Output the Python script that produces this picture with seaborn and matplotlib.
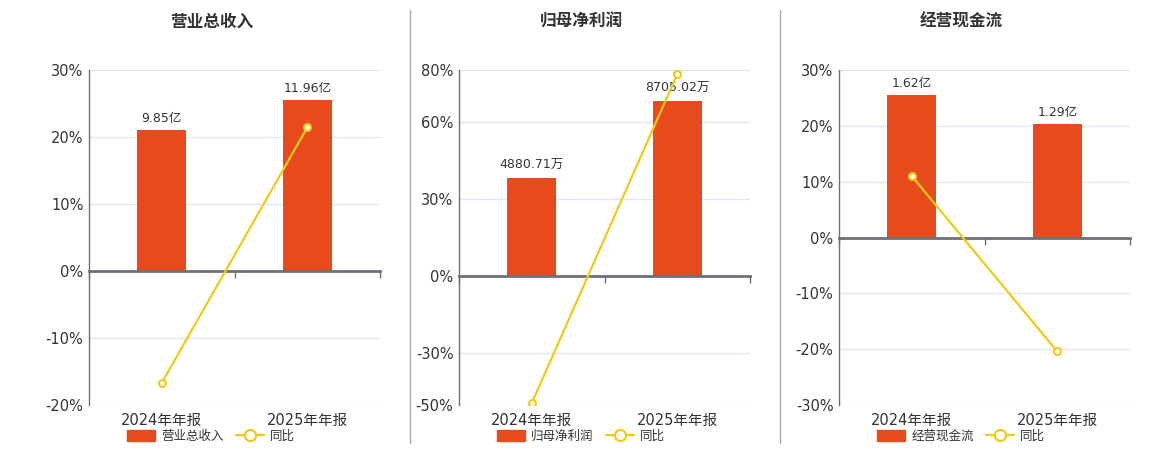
import matplotlib
matplotlib.use("Agg")
import matplotlib.pyplot as plt
import seaborn as sns
import pandas as pd
from matplotlib.patches import Patch
from matplotlib.lines import Line2D

sns.set_theme(style="white")
plt.rcParams['font.family'] = ['DejaVu Sans', 'Noto Sans CJK SC']

categories = ["2024年年报", "2025年年报"]

titles = ["营业总收入", "归母净利润", "经营现金流"]
bar_values = [[9.85, 11.96], [4880.71, 8705.02], [1.62, 1.29]]
bar_labels = [["9.85亿", "11.96亿"], ["4880.71万", "8705.02万"], ["1.62亿", "1.29亿"]]
yoy_values = [[-16.7, 21.42], [-49.3, 78.36], [11.0, -20.4]]
yoy_ticks = [[-20, -10, 0, 10, 20, 30], [-50, -30, 0, 30, 60, 80], [-30, -20, -10, 0, 10, 20, 30]]
yoy_name = "同比"

BAR = "#E84B1B"
LINE = "#F2CA13"
GRID = "#E0E6F1"
AX = "#6E7079"
TXT = "#333333"

fig = plt.figure(figsize=(11.6, 4.5), dpi=100)
lefts = [89, 459, 839]
W, H = 1160, 450
aw = 291 / W
ab = 1 - 405 / H
ah = 335 / H

for i in range(3):
    rect = [lefts[i] / W, ab, aw, ah]
    lo, hi = yoy_ticks[i][0], yoy_ticks[i][-1]

    # percent axis (background grid + ticks + category labels)
    ax_p = fig.add_axes(rect)
    ax_p.set_ylim(lo, hi)
    ax_p.set_xlim(-0.5, 1.5)
    ax_p.set_yticks(yoy_ticks[i])
    ax_p.set_yticklabels([f"{t}%" for t in yoy_ticks[i]])
    ax_p.set_xticks([0, 1])
    ax_p.set_xticklabels(categories)
    ax_p.tick_params(axis='both', length=0, labelsize=10.5, labelcolor=TXT, pad=4)
    ax_p.tick_params(axis='x', pad=6)
    ax_p.grid(axis='y', color=GRID, linewidth=1)
    for s in ['top', 'right', 'bottom']:
        ax_p.spines[s].set_visible(False)
    ax_p.spines['left'].set_color(AX)
    ax_p.spines['left'].set_linewidth(1)

    # bar axis
    ax_b = fig.add_axes(rect)
    df = pd.DataFrame({"cat": categories, "val": bar_values[i]})
    sns.barplot(data=df, x="cat", y="val", ax=ax_b, color=BAR, width=0.34,
                saturation=1, edgecolor=BAR, linewidth=0)
    top = max(bar_values[i]) / 0.85
    ax_b.set_ylim(top * lo / hi, top)
    ax_b.set_xlim(-0.5, 1.5)
    ax_b.patch.set_visible(False)
    ax_b.set_yticks([])
    ax_b.set_xlabel("")
    ax_b.set_ylabel("")
    for s in ['top', 'right', 'left']:
        ax_b.spines[s].set_visible(False)
    ax_b.spines['bottom'].set_position(('data', 0))
    ax_b.spines['bottom'].set_color(AX)
    ax_b.spines['bottom'].set_linewidth(2)
    ax_b.set_xticks([-0.5, 0.5, 1.5])
    ax_b.set_xticklabels([])
    ax_b.tick_params(axis='x', direction='out', length=5, width=1, color=AX, bottom=True)
    ax_b.bar_label(ax_b.containers[0], labels=bar_labels[i], padding=4,
                   fontsize=9, color=TXT)

    # line axis
    ax_l = fig.add_axes(rect)
    ldf = pd.DataFrame({"cat": categories, "yoy": yoy_values[i]})
    sns.lineplot(data=ldf, x="cat", y="yoy", ax=ax_l, color=LINE, linewidth=1.6,
                 marker='o', markersize=5, markerfacecolor='white',
                 markeredgecolor=LINE, markeredgewidth=1.5, sort=False)
    ax_l.set_ylim(lo, hi)
    ax_l.set_xlim(-0.5, 1.5)
    ax_l.patch.set_visible(False)
    ax_l.axis('off')

    # title
    fig.text(rect[0] + 0.42 * aw, 1 - 22 / H, titles[i], ha='center', va='center',
             fontsize=12, fontweight='bold', color=TXT)

    # legend
    handles = [Patch(facecolor=BAR, edgecolor=BAR, label=titles[i]),
               Line2D([0], [0], color=LINE, linewidth=1.6, marker='o', markersize=8,
                      markerfacecolor='white', markeredgecolor=LINE,
                      markeredgewidth=1.6, label=yoy_name)]
    ax_p.legend(handles=handles, loc='center', bbox_to_anchor=(0.42, -0.093),
                ncol=2, frameon=False, fontsize=9, handlelength=2.2,
                handleheight=0.9, columnspacing=1.0, handletextpad=0.5,
                labelcolor=TXT)

# separators between panels
for x in [410, 780]:
    fig.add_artist(Line2D([x / W, x / W], [1 - 10 / H, 1 - 443 / H],
                          color="#AAAAAA", linewidth=1))

fig.savefig("out.png", dpi=100, facecolor='white')
